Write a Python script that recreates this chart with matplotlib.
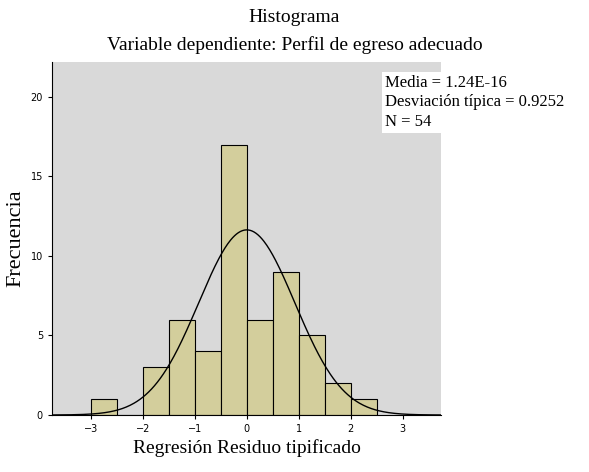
import numpy as np
import matplotlib.pyplot as plt

bin_edges = [-3.0, -2.5, -2.0, -1.5, -1.0, -0.5, 0.0, 0.5, 1.0, 1.5, 2.0, 2.5]
counts = [1, 0, 3, 6, 4, 17, 6, 9, 5, 2, 1]
mean = 1.24e-16
sd = 0.9252
n = 54

fig = plt.figure(figsize=(5.89, 4.72), dpi=100)
ax = fig.add_axes([52 / 589, 1 - 415 / 472, 389 / 589, 353 / 472])
ax.set_facecolor('#d9d9d9')

widths = np.diff(bin_edges)
ax.bar(bin_edges[:-1], counts, width=widths, align='edge',
       color='#d3ce9c', edgecolor='black', linewidth=0.8)

xs = np.linspace(-3.75, 3.75, 400)
pdf = np.exp(-0.5 * ((xs - mean) / sd) ** 2) / (sd * np.sqrt(2 * np.pi))
ax.plot(xs, n * 0.5 * pdf, color='black', linewidth=1)

ax.set_xlim(-3.75, 3.74)
ax.set_ylim(0, 22.2)
ax.set_xticks([-3, -2, -1, 0, 1, 2, 3])
ax.set_yticks([0, 5, 10, 15, 20])
ax.tick_params(labelsize=7, length=3)
for s in ['top', 'right']:
    ax.spines[s].set_visible(False)

serif = 'Liberation Serif'
ax.set_xlabel('Regresión Residuo tipificado', family=serif, fontsize=14)
ax.set_ylabel('Frecuencia', family=serif, fontsize=16)
fig.text(0.5, 1 - 18 / 472, 'Histograma', ha='center', va='center', family=serif, fontsize=14)
fig.text(0.5, 1 - 45 / 472, 'Variable dependiente: Perfil de egreso adecuado',
         ha='center', va='center', family=serif, fontsize=14)

fig.text(385 / 589, 1 - 130 / 472,
         'Media = 1.24E-16\nDesviación típica = 0.9252\nN = 54',
         ha='left', va='bottom', family=serif, fontsize=12, linespacing=1.3,
         bbox=dict(facecolor='white', edgecolor='none', pad=2))

fig.savefig('out.png', dpi=100)
